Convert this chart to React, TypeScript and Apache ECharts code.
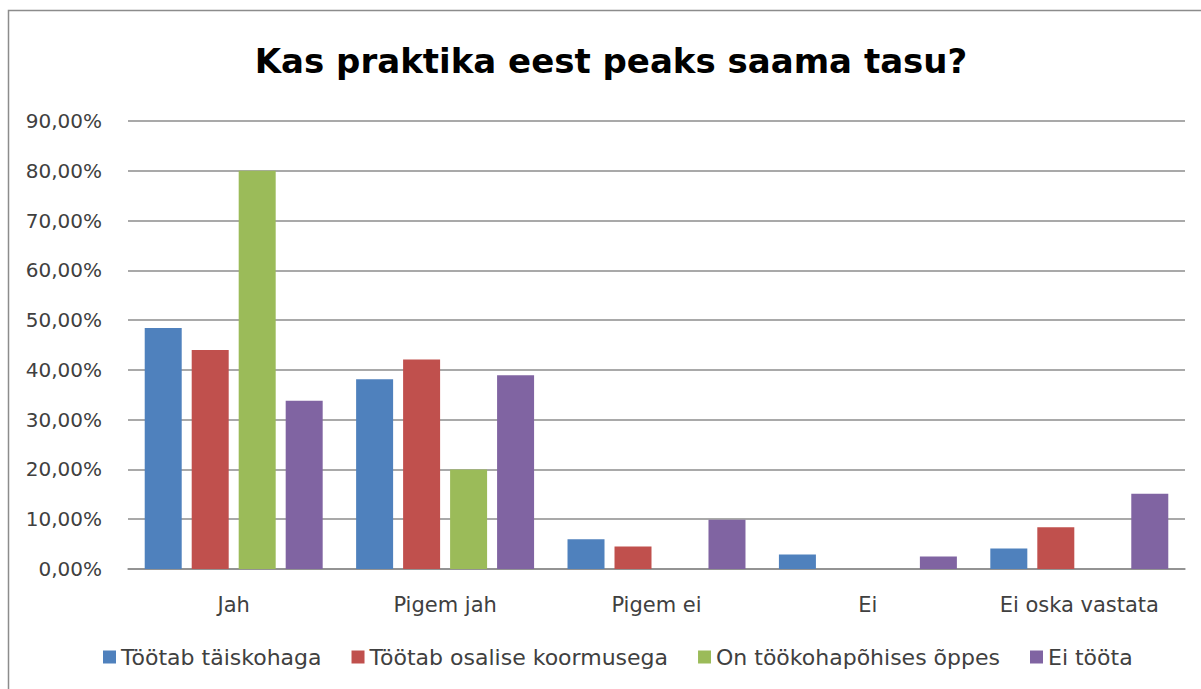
import React, { useEffect, useRef } from "react";
import * as echarts from "echarts";

const categories = ["Jah", "Pigem jah", "Pigem ei", "Ei", "Ei oska vastata"];
const seriesNames = [
  "Töötab täiskohaga",
  "Töötab osalise koormusega",
  "On töökohapõhises õppes",
  "Ei tööta",
];
const fullTime = [48.4, 38.1, 6.0, 2.9, 4.1];
const partTime = [44.0, 42.1, 4.5, 0, 8.4];
const workBased = [80.0, 20.0, 0, 0, 0];
const notWorking = [33.8, 38.9, 9.9, 2.5, 15.1];
const colors = ["#4F81BD", "#C0504D", "#9BBB59", "#8064A2"];
const titleText = "Kas praktika eest peaks saama tasu?";

const FONT = "'DejaVu Sans', sans-serif";

export default function App() {
  const ref = useRef<HTMLDivElement>(null);
  useEffect(() => {
    if (!ref.current) return;
    const chart = echarts.init(ref.current, null, { renderer: "svg" });
    const values = [fullTime, partTime, workBased, notWorking];
    chart.setOption({
      animation: false,
      backgroundColor: "#ffffff",
      title: {
        text: titleText,
        left: 606,
        textAlign: "center",
        top: 39,
        textStyle: {
          fontFamily: FONT,
          fontWeight: "bold",
          fontSize: 34,
          color: "#000000",
        },
      },
      graphic: [
        {
          type: "rect",
          shape: { x: 8.5, y: 10.5, width: 1400, height: 900 },
          style: { fill: "none", stroke: "#8c8c8c", lineWidth: 1.5 },
          silent: true,
        },
      ],
      legend: {
        data: seriesNames,
        left: 103,
        top: 646,
        padding: 0,
        icon: "rect",
        itemWidth: 13,
        itemHeight: 13,
        itemGap: 30,
        textStyle: { fontFamily: FONT, fontSize: 22, color: "#404040" },
      },
      grid: { left: 128, right: 16, top: 121, bottom: 120, containLabel: false },
      xAxis: {
        type: "category",
        data: categories,
        axisLine: { show: true, lineStyle: { color: "#8c8c8c", width: 1.5 } },
        axisTick: { show: false },
        axisLabel: {
          margin: 25,
          fontFamily: FONT,
          fontSize: 21,
          color: "#404040",
        },
      },
      yAxis: {
        type: "value",
        min: 0,
        max: 90,
        interval: 10,
        axisLine: { show: false },
        axisTick: { show: false },
        splitLine: { lineStyle: { color: "#8c8c8c", width: 1.5 } },
        axisLabel: {
          margin: 26,
          fontFamily: FONT,
          fontSize: 20,
          color: "#404040",
          formatter: (v: number) => v.toFixed(2).replace(".", ",") + "%",
        },
      },
      series: seriesNames.map((name, i) => ({
        name,
        type: "bar",
        data: values[i],
        barWidth: 37,
        barGap: "27%",
        itemStyle: { color: colors[i] },
      })),
    });
    return () => chart.dispose();
  }, []);
  return (
    <div
      ref={ref}
      style={{ position: "fixed", left: 0, top: 0, width: 1201, height: 689 }}
    />
  );
}
